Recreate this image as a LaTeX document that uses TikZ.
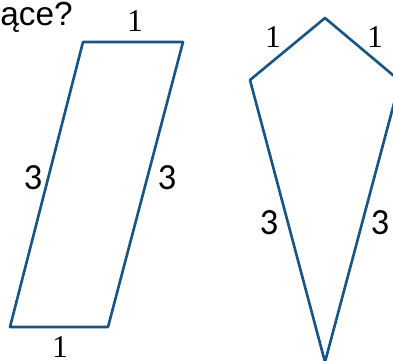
\documentclass[tikz,border=0pt]{standalone}
\usepackage{fontspec}
\setmainfont{Liberation Serif}
\newfontfamily\qfont{Liberation Sans}
\newfontfamily\numfont{Carlito}
\definecolor{edgeblue}{RGB}{24,84,132}
\begin{document}
\begin{tikzpicture}[x=0.02cm, y=-0.02cm, line join=round, line cap=round]
  \tikzset{
    side/.style={draw=edgeblue, line width=1.5pt},
    one/.style={font=\fontsize{18}{18}\selectfont},
    three/.style={font=\numfont\fontsize{21}{21}\selectfont},
  }
  \useasboundingbox (0,0) rectangle (393,360);
  \clip (0,0) rectangle (393,360);

  \node[anchor=west, inner sep=0pt, font=\qfont\fontsize{19}{19}\selectfont] (question) at (0,17) {ące?};

  \coordinate (A) at (83,42);
  \coordinate (B) at (183,42);
  \coordinate (C) at (108,327);
  \coordinate (D) at (10,327);

  \coordinate (P) at (325,18);
  \coordinate (Q) at (400,81);
  \coordinate (R) at (325,362);
  \coordinate (S) at (250,80);

  \draw[side] (A)--(B)--(C)--(D)--cycle;
  \draw[side] (P)--(Q)--(R)--(S)--cycle;

  \node[one] (ab) at (135,21) {1};
  \node[three] (da) at (33,178) {3};
  \node[three] (bc) at (167,178) {3};
  \node[one] (cd) at (60,347) {1};

  \node[one] (sp) at (273,37) {1};
  \node[one] (pq) at (375,37) {1};
  \node[three] (rs) at (269,223) {3};
  \node[three] (qr) at (380,223) {3};
\end{tikzpicture}
\end{document}
